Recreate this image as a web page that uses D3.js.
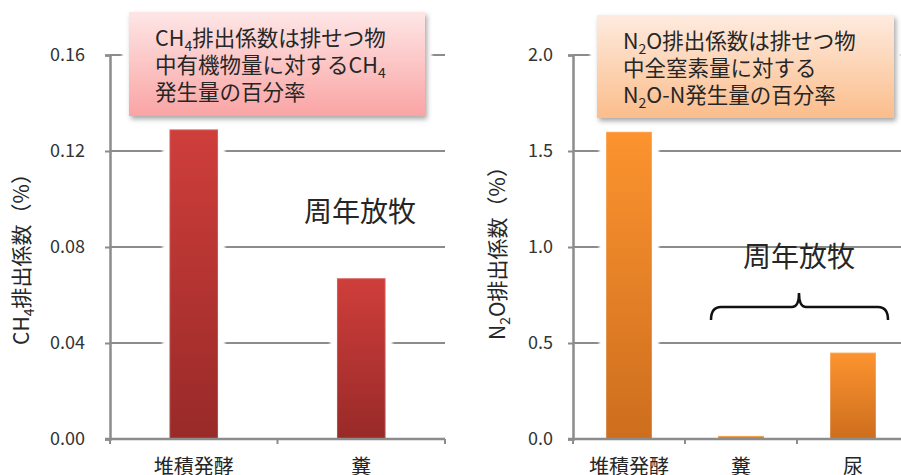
<!DOCTYPE html>
<html>
<head>
<meta charset="utf-8">
<script src="https://cdn.jsdelivr.net/npm/d3@7"></script>
<style>
  html, body { margin: 0; padding: 0; background: #fff; }
  svg { display: block; font-family: "Noto Sans CJK JP", "Noto Sans", sans-serif; }
</style>
</head>
<body>
<svg id="chart" width="901" height="475"></svg>
<script>
// CH4 emission factors
const ch4Categories = ["堆積発酵", "糞"];
const ch4Values = [0.129, 0.067];
const ch4Ticks = [0, 0.04, 0.08, 0.12, 0.16];

// N2O emission factors
const n2oCategories = ["堆積発酵", "糞", "尿"];
const n2oValues = [1.6, 0.016, 0.45];
const n2oTicks = [0, 0.5, 1.0, 1.5, 2.0];

const svg = d3.select("#chart");
const defs = svg.append("defs");

const gridColor = "#8c8c8c";
const textColor = "#262626";

function linearGrad(id, top, bottom) {
  const g = defs.append("linearGradient").attr("id", id)
    .attr("x1", 0).attr("y1", 0).attr("x2", 0).attr("y2", 1);
  g.append("stop").attr("offset", "0%").attr("stop-color", top);
  g.append("stop").attr("offset", "100%").attr("stop-color", bottom);
}
linearGrad("redBar", "#cf3e3b", "#982a28");
linearGrad("orangeBar", "#fc932f", "#cd6e1e");
linearGrad("pinkBox", "#fee6e6", "#faa4a4");
linearGrad("peachBox", "#feebdf", "#fbbd8b");

const shadow = defs.append("filter").attr("id", "boxShadow")
  .attr("x", "-10%").attr("y", "-10%").attr("width", "125%").attr("height", "130%");
shadow.append("feDropShadow").attr("dx", 2).attr("dy", 3).attr("stdDeviation", 2.5)
  .attr("flood-color", "#000").attr("flood-opacity", 0.35);

const halo = defs.append("filter").attr("id", "barHalo")
  .attr("x", "-30%").attr("y", "-10%").attr("width", "160%").attr("height", "120%");
halo.append("feGaussianBlur").attr("stdDeviation", 1.2);

function drawPanel(opt) {
  const g = svg.append("g");
  const y = d3.scaleLinear().domain(opt.domain).range([439, 55]);
  const x = d3.scaleBand().domain(opt.categories).range(opt.xRange).padding(0);
  const bw = x.bandwidth() * opt.barFrac;

  // gridlines
  g.append("g").selectAll("line").data(opt.ticks.slice(1)).join("line")
    .attr("x1", opt.xRange[0]).attr("x2", opt.xRange[1])
    .attr("y1", d => y(d)).attr("y2", d => y(d))
    .attr("stroke", gridColor).attr("stroke-width", 2);

  // y axis
  const yAxis = g.append("g").attr("transform", `translate(${opt.xRange[0]},0)`)
    .call(d3.axisLeft(y).tickValues(opt.ticks).tickFormat(d3.format(opt.fmt)).tickSize(5).tickPadding(opt.tickPad));
  yAxis.select(".domain").attr("stroke", gridColor).attr("stroke-width", 2.5);
  yAxis.selectAll(".tick line").attr("stroke", gridColor).attr("stroke-width", 2);
  yAxis.selectAll(".tick text").attr("fill", "#333")
    .style("font-size", "18px").style("font-family", "'Noto Sans CJK JP', sans-serif");

  // white halo around bars, then bars
  const bars = g.append("g");
  bars.selectAll("rect.halo").data(opt.values).join("rect").attr("class", "halo")
    .attr("x", (d, i) => x(opt.categories[i]) + (x.bandwidth() - bw) / 2 - 7)
    .attr("width", bw + 14)
    .attr("y", d => y(d) - 4)
    .attr("height", d => y(0) - y(d) + 3)
    .attr("fill", "#fff").attr("filter", "url(#barHalo)");
  bars.selectAll("rect.bar").data(opt.values).join("rect").attr("class", "bar")
    .attr("x", (d, i) => x(opt.categories[i]) + (x.bandwidth() - bw) / 2)
    .attr("width", bw)
    .attr("y", d => y(d))
    .attr("height", d => y(0) - y(d))
    .attr("fill", `url(#${opt.grad})`);
  // soft highlight on bar sides
  bars.selectAll("rect.edge").data(opt.values).join("rect").attr("class", "edge")
    .attr("x", (d, i) => x(opt.categories[i]) + (x.bandwidth() - bw) / 2)
    .attr("width", bw)
    .attr("y", d => y(d))
    .attr("height", d => y(0) - y(d))
    .attr("fill", "none").attr("stroke", "#fff").attr("stroke-opacity", 0.18).attr("stroke-width", 2);

  // x axis with boundary ticks
  const xa = g.append("g");
  xa.append("line").attr("x1", opt.xRange[0] - 5).attr("x2", opt.xRange[1])
    .attr("y1", y(0)).attr("y2", y(0)).attr("stroke", gridColor).attr("stroke-width", 2.5);
  const bounds = opt.categories.map(c => x(c)).concat([opt.xRange[1]]);
  xa.selectAll("line.tk").data(bounds).join("line").attr("class", "tk")
    .attr("x1", d => d).attr("x2", d => d)
    .attr("y1", y(0)).attr("y2", y(0) + 5)
    .attr("stroke", gridColor).attr("stroke-width", 2);
  xa.selectAll("text").data(opt.categories).join("text")
    .attr("x", d => x(d) + x.bandwidth() / 2).attr("y", 474)
    .attr("text-anchor", "middle").attr("fill", textColor)
    .style("font-size", "20px").text(d => d);

  // y axis title (rotated, with subscript)
  const t = g.append("text")
    .attr("transform", `translate(${opt.titleX},${opt.titleY}) rotate(-90)`)
    .attr("text-anchor", "middle").attr("fill", textColor).style("font-size", "21px");
  t.append("tspan").text(opt.titleParts[0]);
  t.append("tspan").attr("dy", 5).style("font-size", "14px").text(opt.titleParts[1]);
  t.append("tspan").attr("dy", -5).text(opt.titleParts[2]);

  // note box
  const b = opt.box;
  g.append("rect").attr("x", b.x - 7).attr("y", b.y - 7).attr("width", b.w + 14).attr("height", b.h + 14)
    .attr("fill", "#fff").attr("filter", "url(#barHalo)");
  g.append("rect").attr("x", b.x).attr("y", b.y).attr("width", b.w).attr("height", b.h)
    .attr("fill", `url(#${b.grad})`).attr("filter", "url(#boxShadow)");
  const note = g.append("g").attr("fill", textColor).style("font-size", "21.5px");
  b.lines.forEach((parts, i) => {
    const tx = note.append("text").attr("x", b.x + b.pad).attr("y", b.y + b.base + i * 27);
    parts.forEach(p => {
      if (p.sub) {
        tx.append("tspan").attr("dy", 5).style("font-size", "14px").text(p.t);
      } else {
        tx.append("tspan").attr("dy", p.after ? -5 : null).text(p.t);
      }
    });
  });

  return { g, x, y };
}

// Left panel: CH4
drawPanel({
  categories: ch4Categories, values: ch4Values, ticks: ch4Ticks,
  domain: [0, 0.16], xRange: [110, 445], barFrac: 0.29, fmt: ".2f", tickPad: 20,
  grad: "redBar",
  titleX: 29, titleY: 254, titleParts: ["CH", "4", "排出係数（%）"],
  box: {
    x: 129, y: 12, w: 296, h: 104, grad: "pinkBox", pad: 26, base: 34,
    lines: [
      [{ t: "CH" }, { t: "4", sub: true }, { t: "排出係数は排せつ物", after: true }],
      [{ t: "中有機物量に対するCH" }, { t: "4", sub: true }],
      [{ t: "発生量の百分率" }]
    ]
  }
});

svg.append("text").attr("x", 360).attr("y", 222).attr("text-anchor", "middle")
  .attr("fill", textColor).style("font-size", "28px").text("周年放牧");

// Right panel: N2O
drawPanel({
  categories: n2oCategories, values: n2oValues, ticks: n2oTicks,
  domain: [0, 2.0], xRange: [573, 909], barFrac: 0.41, fmt: ".1f", tickPad: 15,
  grad: "orangeBar",
  titleX: 505, titleY: 248, titleParts: ["N", "2", "O排出係数（%）"],
  box: {
    x: 597, y: 15, w: 297, h: 103, grad: "peachBox", pad: 26, base: 34,
    lines: [
      [{ t: "N" }, { t: "2", sub: true }, { t: "O排出係数は排せつ物", after: true }],
      [{ t: "中全窒素量に対する" }],
      [{ t: "N" }, { t: "2", sub: true }, { t: "O-N発生量の百分率", after: true }]
    ]
  }
});

svg.append("text").attr("x", 799).attr("y", 267).attr("text-anchor", "middle")
  .attr("fill", textColor).style("font-size", "28px").text("周年放牧");

// brace spanning the grazing categories
svg.append("path")
  .attr("d", "M711,320 Q711,307 721,307 L792,307 Q799,307 799,293 Q799,307 806,307 L878,307 Q888,307 888,320")
  .attr("fill", "none").attr("stroke", "#111").attr("stroke-width", 2.5);
</script>
</body>
</html>
